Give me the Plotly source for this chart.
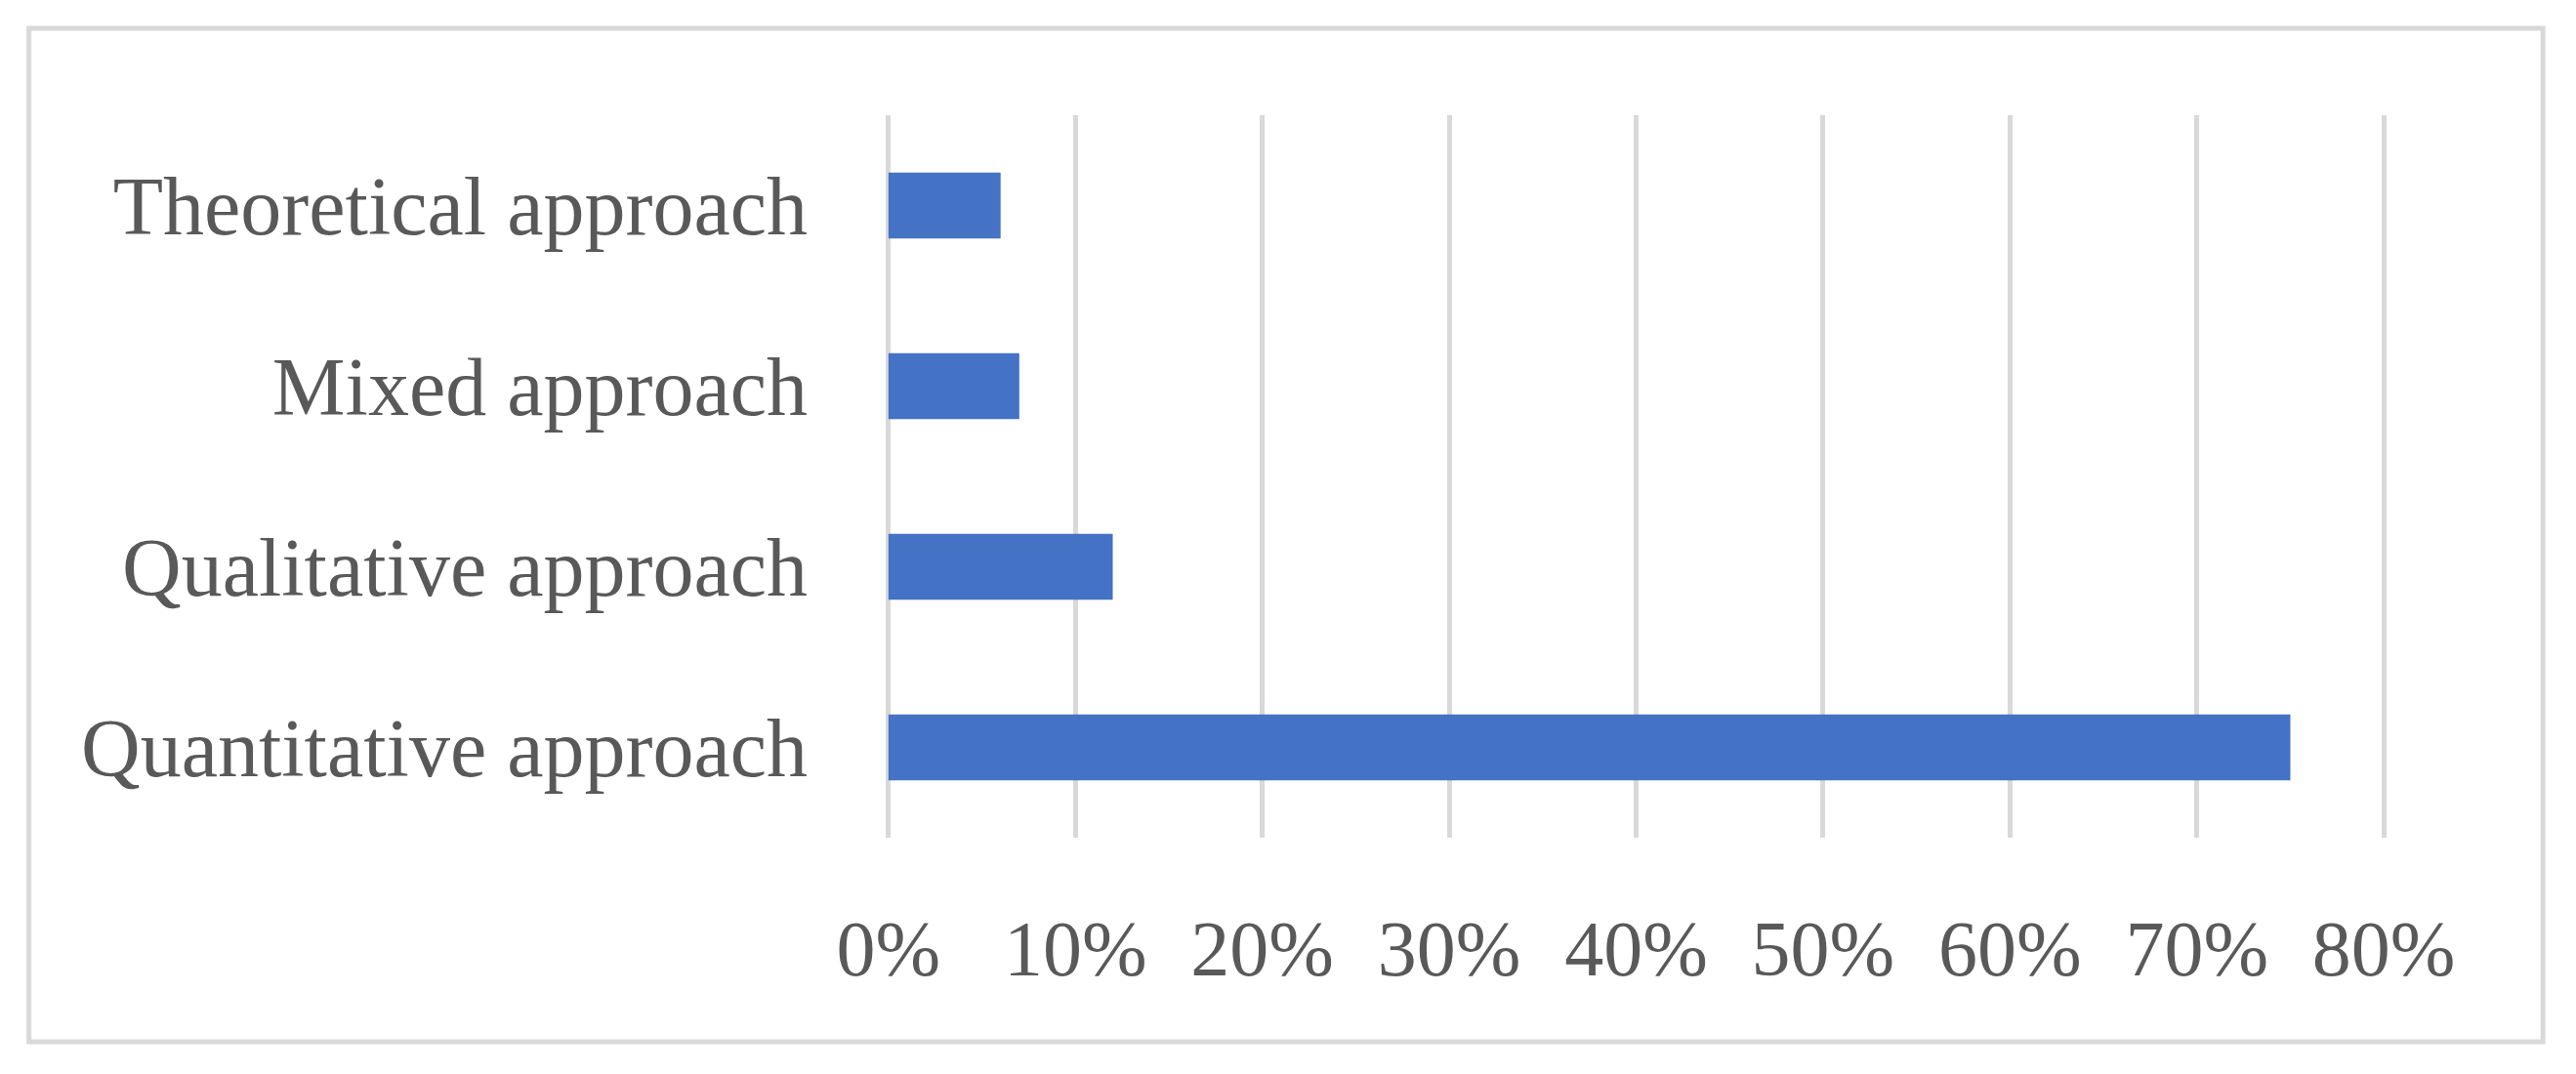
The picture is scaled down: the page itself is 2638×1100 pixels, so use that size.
import plotly.graph_objects as go

# approaches, share of studies
approaches = ["Quantitative approach", "Qualitative approach",
              "Mixed approach", "Theoretical approach"]
shares = [0.75, 0.12, 0.07, 0.06]
x_ticks = [0, 0.1, 0.2, 0.3, 0.4, 0.5, 0.6, 0.7, 0.8]

# page has an 8px body margin, so the figure is drawn 8px in from the corner
OFF = 8
W, H = 2638 - OFF, 1100 - OFF
x0_px, x80_px = 910 - OFF, 2441 - OFF      # where 0% and 80% fall
plot_t, plot_b = 118 - OFF, 858 - OFF
pad = 0.002
scale = (x80_px - x0_px) / 0.8
plot_l = x0_px - pad * scale
plot_r = x80_px + pad * scale

grey_text = "#595959"
grid = "#D9D9D9"
font_family = "Liberation Serif, Times New Roman, serif"


def px_to_paper(px, py):
    return ((px - plot_l) / (plot_r - plot_l),
            (plot_b - py) / (plot_b - plot_t))


fig = go.Figure()
fig.add_trace(go.Bar(
    y=approaches, x=shares, orientation="h",
    marker=dict(color="#4472C4", line=dict(width=0)),
    width=0.364,
))

bx0, by1 = px_to_paper(30 - OFF, 29 - OFF)
bx1, by0 = px_to_paper(2604 - OFF, 1067 - OFF)
fig.add_shape(type="rect", xref="paper", yref="paper",
              x0=bx0, x1=bx1, y0=by0, y1=by1,
              line=dict(color=grid, width=5), layer="below")

fig.update_layout(
    width=W, height=H,
    margin=dict(l=plot_l, r=W - plot_r, t=plot_t, b=H - plot_b,
                autoexpand=False),
    paper_bgcolor="white", plot_bgcolor="white",
    showlegend=False,
    font=dict(family=font_family, color=grey_text, size=80),
)
fig.update_xaxes(
    range=[-pad, 0.8 + pad], tickvals=x_ticks, tickformat=".0%",
    showgrid=True, gridcolor=grid, gridwidth=5,
    zeroline=False, showline=False, ticks="",
    ticklabelstandoff=60,
    tickfont=dict(size=80, color=grey_text, family=font_family),
)
fig.update_yaxes(
    categoryorder="array", categoryarray=approaches,
    showgrid=False, zeroline=False, showline=False, ticks="",
    ticklabelstandoff=78,
    tickfont=dict(size=84, color=grey_text, family=font_family),
)

fig.write_html("out.html")
